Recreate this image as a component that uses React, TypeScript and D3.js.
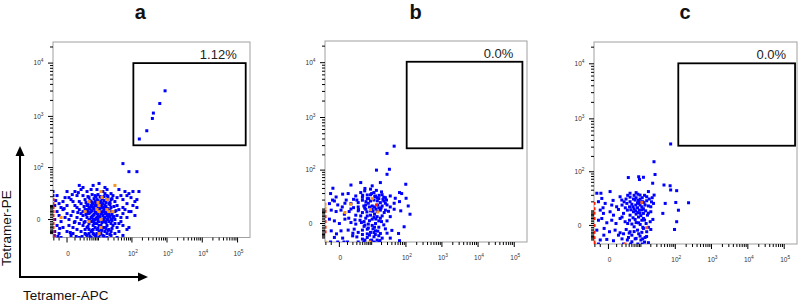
import React from "react";
import * as d3 from "d3";

type Pt = [number, number];

// ---------- labels ----------
const panelTitles = ["a", "b", "c"];
const gateLabels = ["1.12%", "0.0%", "0.0%"];
const xAxisTitle = "Tetramer-APC";
const yAxisTitle = "Tetramer-PE";
const xTickMajors = [0, 100, 1000, 10000, 100000];
const yTickMajors = [0, 100, 1000, 10000];

// ---------- gates (data units) ----------
const gateX0 = [110, 105, 121];
const gateX1 = [170000, 168000, 199000];
const gateY0 = [280, 267, 319];
const gateY1 = [10000, 10400, 10200];

// ---------- panel a ----------
const aBlue: Pt[] = [
  [1.8,40],[2.7,35.6],[6.6,40],[10.4,44.5],[16,35.6],[0,28],[1.0,28],[2.2,31.6],[3.95,28],[5.6,31.6],
  [8.9,31.6],[13.9,28],[18.5,31.6],[24.5,24.6],[42,31.6],[63,28],[82,24.6],[107,28],[-1.35,21.6],[0.2,18.8],
  [1.35,21.6],[2.7,21.6],[4.7,18.8],[7.7,21.6],[12,18.8],[16,24.6],[28,21.6],[37,18.8],[48,21.6],[94,18.8],
  [-0.44,14],[0.44,16.3],[1.8,14],[3.3,16.3],[5.6,14],[8.9,16.3],[12,14],[18.5,16.3],[32,14],[55,16.3],
  [72,11.8],[122,14],[-1.8,9.9],[-0.7,8.1],[0,9.9],[1.0,9.9],[2.2,11.8],[3.95,9.9],[4.7,8.1],[7.7,9.9],
  [10.4,11.8],[13.9,8.1],[16,9.9],[21.3,11.8],[24.5,8.1],[37,9.9],[63,6.4],[107,9.9],[-1.35,4.9],[-0.44,6.4],
  [0,3.5],[0.7,4.9],[1.8,6.4],[2.7,4.9],[3.95,6.4],[5.6,4.9],[6.6,8.1],[8.9,6.4],[12,3.5],[13.9,4.9],
  [18.5,6.4],[21.3,3.5],[28,4.9],[42,6.4],[55,3.5],[82,4.9],[-1.0,2.25],[-0.2,1.1],[0.44,2.25],[1.35,1.1],
  [2.7,2.25],[3.95,3.5],[5.6,1.1],[6.6,2.25],[8.9,3.5],[10.4,1.1],[13.9,2.25],[16,1.1],[21.3,2.25],[28,1.1],
  [37,2.25],[48,1.1],[72,1.1],[122,2.25],[-1.8,0],[-0.7,-1.1],[0.2,0],[1.0,-1.1],[2.2,0],[3.3,-1.1],
  [4.7,0],[6.6,-1.1],[7.7,0],[10.4,-1.1],[12,0],[16,-1.1],[18.5,0],[24.5,-2.25],[32,0],[48,-1.1],
  [-1.35,-3.5],[-0.44,-4.9],[0.2,-3.5],[0.7,-4.9],[1.8,-2.25],[2.7,-3.5],[3.95,-4.9],[4.7,-2.25],[6.6,-3.5],[7.7,-4.9],
  [8.9,-2.25],[12,-3.5],[13.9,-4.9],[18.5,-3.5],[21.3,-6.4],[28,-3.5],[37,-4.9],[55,-3.5],[-1.8,-8.1],[-1.0,-9.9],
  [0,-8.1],[0.7,-9.9],[1.35,-6.4],[2.2,-8.1],[3.3,-9.9],[4.7,-6.4],[5.6,-8.1],[6.6,-9.9],[8.9,-6.4],[10.4,-8.1],
  [12,-9.9],[16,-8.1],[18.5,-9.9],[24.5,-8.1],[32,-9.9],[42,-8.1],[-1.9,-11.8],[-0.7,-14],[0.44,-11.8],[1.8,-14],
  [3.95,-11.8],[5.6,-14],[7.7,-11.8],[10.4,-14],[13.9,-11.8],[18.5,-14],[24.5,-11.8],[37,-14],[55,-11.8],[5.6,9.9],
  [6.6,11.8],[7.7,14],[8.9,9.9],[10.4,6.4],[12,8.1],[7.7,4.9],[8.9,1.1],[6.6,0],[5.6,-1.1],[7.7,-2.25],
  [10.4,-3.5],[13.9,-1.1],[16,3.5],[18.5,2.25],[12,-6.4],[8.9,-9.9],[6.6,-6.4],[4.7,3.5],[3.3,6.4],[3.95,1.1],
  [13.9,11.8],[18.5,21.6],[24.5,16.3],[32,4.9],[24.5,0],[21.3,-1.1],[16,-4.9],[4.7,-9.9],[3.3,-6.4],[2.2,3.5],
  [1.35,8.1],[0.7,14],[-0.2,18.8],[-1.0,11.8],[55,8.1],[72,21.6],[94,4.9],[42,-2.25],[72,-6.4],[159,28],
  [139,16.3],[139,8.1],[82,-4.9],[32,-2.25],[55,121],[82,82],[139,82],[-2.2,28],[-2.2,21.6],
  [2.45,-12.9],[3.6,-10.8],[5.1,-12.9],[6.1,-7.2],[7.1,-10.8],[8.3,-12.9],[9.6,-5.6],[11.2,-10.8],[12.9,-7.2],[14.9,-12.9],
  [17.2,-5.6],[19.8,-7.2],[22.8,-10.8],[26.2,-5.6],[3.0,-1.65],[4.3,-4.2],[5.1,-0.5],[6.1,1.65],[7.1,-1.65],[8.3,0.5],
  [9.6,-0.5],[11.2,1.65],[12.9,-1.65],[14.9,0.5],[17.2,-1.65],[19.8,0.5],[22.8,1.65],[26.2,-0.5],[30,1.65],[3.6,2.9],
  [4.3,5.6],[5.1,4.2],[6.1,5.6],[7.1,2.9],[8.3,4.2],[9.6,2.9],[11.2,5.6],[12.9,4.2],[14.9,5.6],[17.2,4.2],
  [19.8,2.9],[22.8,5.6],[26.2,2.9],[34.5,5.6],[3.0,9],[4.3,10.8],[5.1,7.2],[6.1,9],[7.1,7.2],[8.3,10.8],
  [9.6,9],[11.2,9],[12.9,10.8],[14.9,7.2],[17.2,9],[19.8,7.2],[22.8,10.8],[30,9],[3.6,12.9],[5.1,15.1],
  [6.1,12.9],[7.1,17.5],[8.3,12.9],[9.6,15.1],[11.2,12.9],[12.9,17.5],[14.9,15.1],[17.2,12.9],[22.8,12.9],[4.3,20.2],
  [6.1,23.1],[8.3,20.2],[9.6,23.1],[11.2,20.2],[14.9,20.2],[19.8,20.2],[26.2,17.5],[-1.6,15.1],[-0.9,-5.6],[0.35,-9],
  [-0.3,7.2],[0.9,-1.65],[1.5,4.2],[1.2,-12.9],[-1.2,-12.9],[0.6,23.1],[1.6,26.2],
  [163,371],[266,534],[384,914],[410,1155],[623,1750],[881,3030],
];
const aOrange: Pt[] = [
  [32,40],[12,28],[18.5,16.3],[18.5,6.4],[10.4,9.9],[8.9,6.4],[4.7,14],[3.3,4.9],[10.4,4.9],[12,0],
  [4.7,-1.1],[21.3,4.9],[28,4.9],[-0.7,1.1],[12,-4.9],[10.4,-9.9],[12.9,19],[9.6,13],
];
const aRed: Pt[] = [
  [-2.2,16.3],[-2.2,11.8],[-2.2,8.1],[-2.2,4.9],[-2.2,2.25],[-2.2,0],[-2.2,-2.25],[-2.2,-4.9],[-2.2,-8.1],[-2.2,-11.8],[-2.2,-14],
];

// ---------- panel b ----------
const bBlue: Pt[] = [
  [-0.75,40.5],[1.6,48],[4.25,54.5],[18.5,54.5],[10.4,46],[99,50],[66,31.8],
  [46.5,293],[29,213],[14.1,100],[34,104],[29,82],
  [-1.1,30],[-0.34,24.4],[0.34,29],[1.1,30],[2.7,26],[4.25,31.8],[5.9,35],[7.2,27.6],[9.2,38.5],[11.8,31.8],
  [14.8,23.4],[26,23.4],[36,26],[50,22.5],[76,30],[101,22.5],
  [-1.3,15.6],[-0.55,18.8],[-0.16,14.1],[0.62,16],[1.6,15.6],[2.15,21],[3.4,16.8],[4.9,19.8],[6.4,14.1],[9.2,18.8],
  [10.4,13],[18.5,16.8],[23.3,18.8],[29,14.1],[66,18],[116,13],
  [-1.0,9],[-0.34,7.8],[0.16,9],[0.55,5.7],[1.27,7.8],[2.15,11.3],[3.4,8.4],[4.9,7],[6.4,9.8],[7.2,4.5],
  [9.2,8.4],[12.3,5.7],[14.8,7.8],[20.9,4.5],[26,9],[46.5,9.8],[71.5,8.4],[130,5.7],
  [-1.3,2.4],[-0.55,1.4],[0,0],[0.62,2.4],[1.6,0.5],[2.7,-0.3],[4.0,1.75],[5.6,1.0],[7.8,-0.3],[10.4,2.4],
  [13.2,0],[16.6,1.4],[23.3,-0.7],[29,1.4],[89,-1.75],
  [-1.0,-4.3],[0.16,-4.3],[1.1,-3.8],[2.3,-3.2],[3.4,-5.4],[4.9,-3.8],[7.2,-3.2],[9.2,-5.4],[13.2,-4.3],[18.5,-6.2],[62,-6.2],
  [-1.1,-14],[-0.55,-9.5],[-0.16,-14],[0.34,-10.1],[1.0,-14],[1.95,-8.1],[3.4,-14],[4.9,-11],[7.2,-9.5],[9.2,-12.6],
  [11.8,-8.9],[14.8,-12],[20.9,-10.1],[36,-10.1],[66,-12.6],
  [4.9,24],[7.2,22],[9.2,28],[11.8,20],[13.2,26],[16.6,22],[20.9,28],[23.3,24],[3.4,12],[5.9,11],
  [7.8,16],[10.4,10],[12.3,12],[16.6,11],[18.5,9],[20.9,13],[26,16],[4.25,4.5],[6.4,3],[9.2,5],
  [11.8,3.5],[14.8,4],[18.5,3],[5.6,-1.5],[7.8,-2.5],[10.4,-1],[12.3,-2],[16.6,-2],[4.9,-7],[7.2,-6.5],
  [11.8,-5.5],[16.6,-8],[26,-3],[29,-6],[36,4],[46.5,16],[36,12],[2.7,5],[1.6,10],[0.8,20],
  [3.0,20],[5,27],[6.5,18],[8,22],[10,30],[12.5,25],[15,19],[17,27],[22,21],[3.5,9.5],
  [5.5,13],[7,7.5],[8.5,12],[11,8],[13.5,10],[15.5,14],[19.5,11],[24,7],[2.5,2],[4.5,0.5],
  [6,-0.8],[8.5,1.5],[11,-3],[13.5,2.5],[15.5,-4.5],[20,1],[3,-9],[6,-12],[8.5,-7.5],[10,-12],
  [13,-7],[18,-12.5],[2,-6],[1.2,3],[-0.3,-6.5],[0.3,12],[-0.8,20],[0.5,-14],[5.5,-14],[12,-14],
  [17,-14],[32,8],[40,-4],[28,20],[20,33],[14,36],[6,40],
];
const bOrange: Pt[] = [
  [-2.2,14.9],[-2.2,11],[1.6,14.9],[0.62,7],[10.4,22],[9.2,9.4],[15.5,7.4],[8.8,-14],[-2.2,-14],
];
const bRed: Pt[] = [
  [14.1,14.1],[-2.2,8],[-2.2,4],[-2.2,1],[-2.2,-2],[-2.2,-5],
];

// ---------- panel c ----------
const cBlue: Pt[] = [
  [-1.6,33.8],[-0.9,33.8],[0.16,37.1],[1.6,27.6],[4.3,33.8],[7.0,35],[9.4,30.4],[15.1,27.6],[17,37.1],[25,30.4],
  [-1.3,20.2],[-0.77,24.9],[-0.34,18],[0.34,16],[1.0,14.1],[1.95,22.5],[3.25,18],[4.3,20.2],[5.4,14.1],[6.5,22.5],
  [7.8,18.8],[9.4,16],[11.4,20.2],[15.1,21.5],[20,14.1],[24,18],
  [-1.0,10.7],[-0.55,7.8],[0.16,9.2],[0.55,6.4],[1.3,11.3],[2.35,7.8],[3.4,10.7],[4.3,6.4],[5.7,9.2],[7.0,7.2],
  [9.0,10.7],[12,7.8],[15.9,6.4],[20,9.2],
  [-1.3,2.9],[-0.77,4.0],[-0.16,1.4],[0.34,2.9],[0.9,1.0],[1.6,4.0],[2.75,2.0],[4.1,2.9],[5.0,0.7],[6.5,3.4],
  [8.4,1.4],[10.7,2.9],[14.5,1.0],[19.2,2.0],[23,3.4],
  [-1.6,-2.6],[-0.46,-1.6],[0.1,-3.6],[0.77,-2.6],[1.6,-4.3],[3.05,-2.2],[4.3,-3.6],[6.0,-0.7],[7.8,-2.6],[12,-1.6],
  [15.1,-3.6],[20,-2.2],
  [-1.3,-14],[-0.16,-9.5],[0.55,-10.7],[1.3,-6.0],[2.35,-14],[3.75,-7.8],[5.0,-11.7],[7.0,-8.6],[9.4,-6.7],[13.5,-7.8],[17,-12.6],
  [4.3,27],[5.7,24],[7.0,26],[8.4,22],[9.4,24],[10.7,14],[6.0,12],[7.8,13],[8.4,5],[9.4,8],
  [10.7,-4],[12,12],[13.5,16],[5.0,-6],[6.5,-9],[3.4,-10],[2.35,-5],[11.4,-9],[12,4],[4.1,14],[2.0,16],[3.0,24],
  [74,344],[24.8,158],[26.6,88],[8.5,79],[9,69],[3.7,76],[12,77],[22.7,57.5],[48,52.5],[71.5,50.5],
  [74,40.5],[109,39],[52,18],[103,19.2],[122,10.6],[233,18.8],[44.5,7.8],[109,2],[95,-2.2],
  [3.5,30],[6,30],[8,32],[11,26],[13,30],[18,24],[22,26],[2.5,20],[5,17],[6.8,16],
  [8.5,18],[10,20],[12.5,19],[17,15],[21,20],[2.8,13],[4.6,11],[6.8,10],[8,8.5],[10,6],
  [11,11],[14,10],[17,8],[2,5],[3.5,1],[5.5,4.5],[7,1.5],[9.5,0.5],[11.5,-1],[13,3],
  [17,-1],[2,-9],[4,-4.5],[6,-3.5],[8.5,-5],[10,-10],[13,-12],[15,-7],[4.5,-14],[8,-14],
  [11,-14],[-0.5,-6],[-1,-10],[0.5,22],[-0.6,13],
];
const cOrange: Pt[] = [
  [10.7,19.2],[15.1,-1.2],[2.75,-14],
];
const cRed: Pt[] = [
  [-2.2,18],[-2.2,12],[-2.2,8],[-2.2,4],[-2.2,0],[-2.2,-4],[-2.2,-8],[-2.2,-12],[-2.2,-14],
];

// ---------- scales ----------
const X_DOMAIN: [number, number] = [-2.2, 225000];
const Y_DOMAIN: [number, number] = [-14, 24800];
const X_CONST = 1.47;
const Y_CONST = 12;

const FONT = "'Liberation Sans', Arial, Helvetica, sans-serif";

const layouts = [
  { l: 53, r: 250, t: 42, b: 237.5, titleX: 140.3 },
  { l: 325, r: 527, t: 41, b: 242, titleX: 415.5 },
  { l: 594, r: 797, t: 42, b: 244, titleX: 685 },
];

const pointSets = [
  { blue: aBlue, orange: aOrange, red: aRed, orangeColor: "#f7931e" },
  { blue: bBlue, orange: bOrange, red: bRed, orangeColor: "#f7931e" },
  { blue: cBlue, orange: cOrange, red: cRed, orangeColor: "#f15a24" },
];

function minorTicks(maxExp: number, lo: number, hi: number, negMax: number) {
  const out: number[] = [];
  for (let k = 0; k <= maxExp; k++) {
    for (let m = 1; m <= 9; m++) {
      const v = m * Math.pow(10, k);
      if (v >= lo && v <= hi) out.push(v);
    }
  }
  for (let m = 1; m <= negMax; m++) if (-m >= lo) out.push(-m);
  return out;
}

function TickLabel({ v, x, y, anchor }: { v: number; x: number; y: number; anchor: string }) {
  if (v === 0) {
    return (
      <text x={x} y={y} fontSize={6.5} fill="#333" textAnchor={anchor} fontFamily={FONT}>0</text>
    );
  }
  const e = Math.round(Math.log10(v));
  return (
    <text x={x} y={y} fontSize={6.5} fill="#333" textAnchor={anchor} fontFamily={FONT}>
      10<tspan dy={-3} fontSize={4.8}>{e}</tspan>
    </text>
  );
}

function Panel({ idx }: { idx: number }) {
  const L = layouts[idx];
  const P = pointSets[idx];
  const sx = d3.scaleSymlog().constant(X_CONST).domain(X_DOMAIN).range([L.l, L.r]);
  const sy = d3.scaleSymlog().constant(Y_CONST).domain(Y_DOMAIN).range([L.b, L.t]);
  const clipId = `clip-${idx}`;
  const xMinor = minorTicks(4, X_DOMAIN[0], X_DOMAIN[1], 2).filter((v) => !xTickMajors.includes(v));
  const yMinor = minorTicks(4, Y_DOMAIN[0], Y_DOMAIN[1], 10).filter((v) => !yTickMajors.includes(v));
  const s = 3;
  const dot = (p: Pt, color: string, key: string) => (
    <rect key={key} x={sx(p[0]) - s / 2} y={sy(p[1]) - s / 2} width={s} height={s} fill={color} />
  );
  const gx0 = sx(gateX0[idx]);
  const gx1 = sx(gateX1[idx]);
  const gy0 = sy(gateY1[idx]);
  const gy1 = sy(gateY0[idx]);
  return (
    <g>
      <text x={L.titleX} y={18.5} fontSize={20} fontWeight="bold" textAnchor="middle" fontFamily={FONT} fill="#111">
        {panelTitles[idx]}
      </text>
      <defs>
        <clipPath id={clipId}>
          <rect x={L.l} y={L.t} width={L.r - L.l} height={L.b - L.t} />
        </clipPath>
      </defs>
      <rect x={L.l} y={L.t} width={L.r - L.l} height={L.b - L.t} fill="#fff" stroke="#a0a0a0" strokeWidth={1} />
      <g clipPath={`url(#${clipId})`}>
        {P.blue.map((p, i) => dot(p, "#0000ff", `b${i}`))}
        {P.orange.map((p, i) => dot(p, P.orangeColor, `o${i}`))}
        {P.red.map((p, i) => dot(p, "#ff1a00", `r${i}`))}
      </g>
      {xMinor.map((v, i) => (
        <line key={`xm${i}`} x1={sx(v)} x2={sx(v)} y1={L.b} y2={L.b + 3} stroke="#000" strokeWidth={1} />
      ))}
      {xTickMajors.map((v, i) => (
        <line key={`xM${i}`} x1={sx(v)} x2={sx(v)} y1={L.b} y2={L.b + 5} stroke="#000" strokeWidth={1} />
      ))}
      {xTickMajors.map((v, i) => (
        <TickLabel key={`xl${i}`} v={v} x={sx(v) + 1} y={L.b + 18} anchor="middle" />
      ))}
      {yMinor.map((v, i) => (
        <line key={`ym${i}`} x1={L.l - 3} x2={L.l} y1={sy(v)} y2={sy(v)} stroke="#000" strokeWidth={1} />
      ))}
      {yTickMajors.map((v, i) => (
        <line key={`yM${i}`} x1={L.l - 5} x2={L.l} y1={sy(v)} y2={sy(v)} stroke="#000" strokeWidth={1} />
      ))}
      {yTickMajors.map((v, i) => (
        <TickLabel key={`yl${i}`} v={v} x={L.l - 14.5} y={sy(v) + 2.3} anchor="middle" />
      ))}
      <rect x={gx0} y={gy0} width={gx1 - gx0} height={gy1 - gy0} fill="none" stroke="#000" strokeWidth={1.8} />
      <text x={gx1 - 9} y={gy0 - 4} fontSize={13} textAnchor="end" fontFamily={FONT} fill="#222">
        {gateLabels[idx]}
      </text>
    </g>
  );
}

export default function App() {
  return (
    <svg width={798} height={302} style={{ position: "absolute", left: 0, top: 0, background: "#fff" }}>
      <rect x={0} y={0} width={798} height={302} fill="#fff" />
      {[0, 1, 2].map((i) => (
        <Panel key={i} idx={i} />
      ))}
      <line x1={20} y1={277} x2={20} y2={155} stroke="#000" strokeWidth={2} />
      <polygon points="20,146 15.5,156 24.5,156" fill="#000" />
      <line x1={19} y1={277} x2={139} y2={277} stroke="#000" strokeWidth={2} />
      <polygon points="148,277 138,272.5 138,281.5" fill="#000" />
      <text x={23} y={300} fontSize={13.5} fontFamily={FONT} fill="#111">{xAxisTitle}</text>
      <text
        transform="translate(10.5,228) rotate(-90)"
        fontSize={13.5}
        textAnchor="middle"
        fontFamily={FONT}
        fill="#111"
      >
        {yAxisTitle}
      </text>
    </svg>
  );
}
